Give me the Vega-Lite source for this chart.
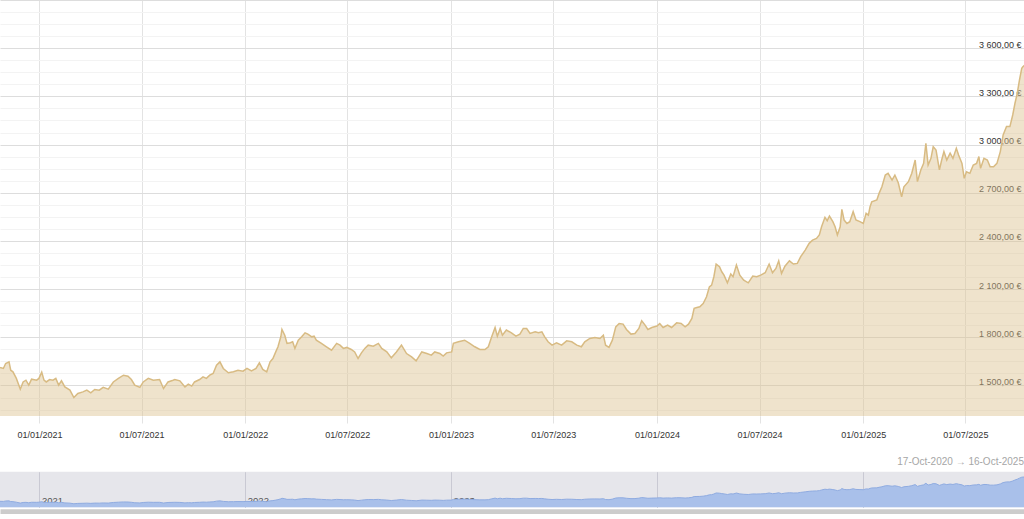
{
  "$schema": "https://vega.github.io/schema/vega-lite/v6.json",
  "padding": 0,
  "background": "white",
  "spacing": 55.7,
  "bounds": "flush",
  "config": {"font": "Liberation Sans", "view": {"stroke": null}},
  "datasets": {
    "gold": [
      {"date": "2020-10-17", "price": 1620}, {"date": "2020-10-23", "price": 1612}, {"date": "2020-10-29", "price": 1606}, {"date": "2020-11-02", "price": 1637}, {"date": "2020-11-08", "price": 1647}, {"date": "2020-11-11", "price": 1595}, {"date": "2020-11-15", "price": 1585}, {"date": "2020-11-21", "price": 1544}, {"date": "2020-11-28", "price": 1477}, {"date": "2020-12-03", "price": 1522}, {"date": "2020-12-08", "price": 1533}, {"date": "2020-12-13", "price": 1502}, {"date": "2020-12-18", "price": 1539}, {"date": "2020-12-27", "price": 1533}, {"date": "2020-12-31", "price": 1544},
      {"date": "2021-01-05", "price": 1583}, {"date": "2021-01-09", "price": 1533}, {"date": "2021-01-13", "price": 1522}, {"date": "2021-01-19", "price": 1537}, {"date": "2021-01-25", "price": 1533}, {"date": "2021-01-30", "price": 1544}, {"date": "2021-02-04", "price": 1502}, {"date": "2021-02-09", "price": 1529}, {"date": "2021-02-15", "price": 1491}, {"date": "2021-02-24", "price": 1471}, {"date": "2021-03-03", "price": 1425}, {"date": "2021-03-10", "price": 1450}, {"date": "2021-03-19", "price": 1460}, {"date": "2021-03-26", "price": 1471}, {"date": "2021-04-02", "price": 1454}, {"date": "2021-04-09", "price": 1475}, {"date": "2021-04-17", "price": 1471}, {"date": "2021-04-24", "price": 1488}, {"date": "2021-05-03", "price": 1477}, {"date": "2021-05-12", "price": 1522}, {"date": "2021-05-21", "price": 1544}, {"date": "2021-05-30", "price": 1564}, {"date": "2021-06-07", "price": 1558}, {"date": "2021-06-13", "price": 1537}, {"date": "2021-06-19", "price": 1502}, {"date": "2021-06-28", "price": 1488}, {"date": "2021-07-04", "price": 1522}, {"date": "2021-07-13", "price": 1544}, {"date": "2021-07-22", "price": 1533}, {"date": "2021-08-02", "price": 1537}, {"date": "2021-08-09", "price": 1481}, {"date": "2021-08-17", "price": 1522}, {"date": "2021-08-26", "price": 1533}, {"date": "2021-08-29", "price": 1537}, {"date": "2021-09-07", "price": 1529}, {"date": "2021-09-16", "price": 1491}, {"date": "2021-09-22", "price": 1508}, {"date": "2021-09-28", "price": 1496}, {"date": "2021-10-03", "price": 1522}, {"date": "2021-10-12", "price": 1537}, {"date": "2021-10-18", "price": 1554}, {"date": "2021-10-24", "price": 1544}, {"date": "2021-10-30", "price": 1564}, {"date": "2021-11-05", "price": 1575}, {"date": "2021-11-11", "price": 1626}, {"date": "2021-11-17", "price": 1647}, {"date": "2021-11-23", "price": 1606}, {"date": "2021-12-02", "price": 1579}, {"date": "2021-12-11", "price": 1585}, {"date": "2021-12-19", "price": 1595}, {"date": "2021-12-28", "price": 1589},
      {"date": "2022-01-04", "price": 1606}, {"date": "2022-01-12", "price": 1591}, {"date": "2022-01-20", "price": 1606}, {"date": "2022-01-26", "price": 1641}, {"date": "2022-02-01", "price": 1600}, {"date": "2022-02-08", "price": 1585}, {"date": "2022-02-14", "price": 1647}, {"date": "2022-02-19", "price": 1668}, {"date": "2022-02-24", "price": 1709}, {"date": "2022-02-28", "price": 1741}, {"date": "2022-03-05", "price": 1803}, {"date": "2022-03-07", "price": 1849}, {"date": "2022-03-12", "price": 1813}, {"date": "2022-03-16", "price": 1762}, {"date": "2022-03-22", "price": 1766}, {"date": "2022-03-26", "price": 1772}, {"date": "2022-03-30", "price": 1731}, {"date": "2022-04-05", "price": 1782}, {"date": "2022-04-11", "price": 1803}, {"date": "2022-04-17", "price": 1828}, {"date": "2022-04-22", "price": 1820}, {"date": "2022-04-29", "price": 1803}, {"date": "2022-05-03", "price": 1807}, {"date": "2022-05-07", "price": 1782}, {"date": "2022-05-16", "price": 1762}, {"date": "2022-05-25", "price": 1741}, {"date": "2022-06-03", "price": 1720}, {"date": "2022-06-12", "price": 1762}, {"date": "2022-06-18", "price": 1751}, {"date": "2022-06-24", "price": 1731}, {"date": "2022-06-30", "price": 1737}, {"date": "2022-07-08", "price": 1724}, {"date": "2022-07-14", "price": 1709}, {"date": "2022-07-20", "price": 1668}, {"date": "2022-07-26", "price": 1703}, {"date": "2022-08-01", "price": 1731}, {"date": "2022-08-07", "price": 1751}, {"date": "2022-08-16", "price": 1745}, {"date": "2022-08-25", "price": 1762}, {"date": "2022-08-31", "price": 1731}, {"date": "2022-09-09", "price": 1709}, {"date": "2022-09-17", "price": 1672}, {"date": "2022-09-26", "price": 1709}, {"date": "2022-10-05", "price": 1751}, {"date": "2022-10-14", "price": 1699}, {"date": "2022-10-23", "price": 1678}, {"date": "2022-10-31", "price": 1653}, {"date": "2022-11-10", "price": 1709}, {"date": "2022-11-19", "price": 1699}, {"date": "2022-11-27", "price": 1689}, {"date": "2022-12-03", "price": 1709}, {"date": "2022-12-12", "price": 1699}, {"date": "2022-12-18", "price": 1683}, {"date": "2022-12-24", "price": 1703},
      {"date": "2023-01-02", "price": 1709}, {"date": "2023-01-05", "price": 1762}, {"date": "2023-01-14", "price": 1772}, {"date": "2023-01-25", "price": 1782}, {"date": "2023-02-03", "price": 1762}, {"date": "2023-02-12", "price": 1741}, {"date": "2023-02-21", "price": 1724}, {"date": "2023-03-02", "price": 1724}, {"date": "2023-03-08", "price": 1741}, {"date": "2023-03-14", "price": 1803}, {"date": "2023-03-20", "price": 1861}, {"date": "2023-03-24", "price": 1807}, {"date": "2023-03-29", "price": 1855}, {"date": "2023-04-02", "price": 1813}, {"date": "2023-04-09", "price": 1845}, {"date": "2023-04-18", "price": 1828}, {"date": "2023-04-26", "price": 1807}, {"date": "2023-05-03", "price": 1820}, {"date": "2023-05-09", "price": 1855}, {"date": "2023-05-15", "price": 1855}, {"date": "2023-05-21", "price": 1824}, {"date": "2023-05-30", "price": 1834}, {"date": "2023-06-05", "price": 1828}, {"date": "2023-06-11", "price": 1834}, {"date": "2023-06-16", "price": 1803}, {"date": "2023-06-22", "price": 1772}, {"date": "2023-06-29", "price": 1751}, {"date": "2023-07-07", "price": 1766}, {"date": "2023-07-16", "price": 1751}, {"date": "2023-07-25", "price": 1778}, {"date": "2023-08-03", "price": 1772}, {"date": "2023-08-12", "price": 1751}, {"date": "2023-08-20", "price": 1741}, {"date": "2023-08-26", "price": 1772}, {"date": "2023-09-04", "price": 1793}, {"date": "2023-09-13", "price": 1799}, {"date": "2023-09-22", "price": 1793}, {"date": "2023-09-28", "price": 1813}, {"date": "2023-10-02", "price": 1751}, {"date": "2023-10-08", "price": 1737}, {"date": "2023-10-14", "price": 1782}, {"date": "2023-10-20", "price": 1865}, {"date": "2023-10-26", "price": 1886}, {"date": "2023-11-02", "price": 1882}, {"date": "2023-11-08", "price": 1849}, {"date": "2023-11-16", "price": 1820}, {"date": "2023-11-23", "price": 1824}, {"date": "2023-11-30", "price": 1855}, {"date": "2023-12-05", "price": 1903}, {"date": "2023-12-11", "price": 1876}, {"date": "2023-12-16", "price": 1849}, {"date": "2023-12-23", "price": 1861},
      {"date": "2024-01-01", "price": 1870}, {"date": "2024-01-06", "price": 1886}, {"date": "2024-01-12", "price": 1861}, {"date": "2024-01-20", "price": 1876}, {"date": "2024-01-27", "price": 1861}, {"date": "2024-02-05", "price": 1890}, {"date": "2024-02-13", "price": 1886}, {"date": "2024-02-20", "price": 1865}, {"date": "2024-02-26", "price": 1882}, {"date": "2024-03-03", "price": 1917}, {"date": "2024-03-07", "price": 1980}, {"date": "2024-03-12", "price": 1985}, {"date": "2024-03-17", "price": 1990}, {"date": "2024-03-23", "price": 2010}, {"date": "2024-03-29", "price": 2052}, {"date": "2024-04-03", "price": 2114}, {"date": "2024-04-07", "price": 2125}, {"date": "2024-04-11", "price": 2177}, {"date": "2024-04-15", "price": 2256}, {"date": "2024-04-21", "price": 2239}, {"date": "2024-04-25", "price": 2208}, {"date": "2024-04-29", "price": 2187}, {"date": "2024-05-05", "price": 2139}, {"date": "2024-05-11", "price": 2194}, {"date": "2024-05-15", "price": 2177}, {"date": "2024-05-21", "price": 2250}, {"date": "2024-05-27", "price": 2187}, {"date": "2024-06-03", "price": 2156}, {"date": "2024-06-11", "price": 2139}, {"date": "2024-06-19", "price": 2181}, {"date": "2024-06-26", "price": 2177}, {"date": "2024-07-03", "price": 2187}, {"date": "2024-07-11", "price": 2202}, {"date": "2024-07-18", "price": 2256}, {"date": "2024-07-24", "price": 2202}, {"date": "2024-07-30", "price": 2229}, {"date": "2024-08-04", "price": 2276}, {"date": "2024-08-09", "price": 2198}, {"date": "2024-08-15", "price": 2243}, {"date": "2024-08-23", "price": 2276}, {"date": "2024-08-30", "price": 2256}, {"date": "2024-09-06", "price": 2260}, {"date": "2024-09-12", "price": 2302}, {"date": "2024-09-20", "price": 2343}, {"date": "2024-09-27", "price": 2385}, {"date": "2024-10-03", "price": 2405}, {"date": "2024-10-10", "price": 2416}, {"date": "2024-10-15", "price": 2437}, {"date": "2024-10-19", "price": 2488}, {"date": "2024-10-25", "price": 2547}, {"date": "2024-10-29", "price": 2526}, {"date": "2024-11-02", "price": 2555}, {"date": "2024-11-08", "price": 2520}, {"date": "2024-11-12", "price": 2488}, {"date": "2024-11-16", "price": 2437}, {"date": "2024-11-21", "price": 2488}, {"date": "2024-11-24", "price": 2597}, {"date": "2024-11-28", "price": 2530}, {"date": "2024-12-03", "price": 2509}, {"date": "2024-12-08", "price": 2520}, {"date": "2024-12-14", "price": 2582}, {"date": "2024-12-19", "price": 2530}, {"date": "2024-12-26", "price": 2520},
      {"date": "2025-01-01", "price": 2509}, {"date": "2025-01-06", "price": 2572}, {"date": "2025-01-10", "price": 2561}, {"date": "2025-01-13", "price": 2613}, {"date": "2025-01-16", "price": 2644}, {"date": "2025-01-25", "price": 2655}, {"date": "2025-01-29", "price": 2696}, {"date": "2025-02-03", "price": 2737}, {"date": "2025-02-09", "price": 2810}, {"date": "2025-02-14", "price": 2821}, {"date": "2025-02-21", "price": 2779}, {"date": "2025-02-26", "price": 2810}, {"date": "2025-03-04", "price": 2762}, {"date": "2025-03-10", "price": 2675}, {"date": "2025-03-14", "price": 2737}, {"date": "2025-03-22", "price": 2769}, {"date": "2025-03-28", "price": 2821}, {"date": "2025-04-03", "price": 2904}, {"date": "2025-04-07", "price": 2769}, {"date": "2025-04-13", "price": 2842}, {"date": "2025-04-18", "price": 2883}, {"date": "2025-04-22", "price": 3008}, {"date": "2025-04-26", "price": 2873}, {"date": "2025-05-01", "price": 2914}, {"date": "2025-05-05", "price": 2987}, {"date": "2025-05-10", "price": 2966}, {"date": "2025-05-16", "price": 2842}, {"date": "2025-05-20", "price": 2904}, {"date": "2025-05-24", "price": 2956}, {"date": "2025-05-29", "price": 2904}, {"date": "2025-06-04", "price": 2946}, {"date": "2025-06-09", "price": 2914}, {"date": "2025-06-15", "price": 2977}, {"date": "2025-06-19", "price": 2935}, {"date": "2025-06-25", "price": 2883}, {"date": "2025-06-29", "price": 2790}, {"date": "2025-07-03", "price": 2831}, {"date": "2025-07-09", "price": 2821}, {"date": "2025-07-15", "price": 2873}, {"date": "2025-07-21", "price": 2883}, {"date": "2025-07-25", "price": 2925}, {"date": "2025-07-28", "price": 2852}, {"date": "2025-08-03", "price": 2914}, {"date": "2025-08-09", "price": 2904}, {"date": "2025-08-14", "price": 2862}, {"date": "2025-08-20", "price": 2862}, {"date": "2025-08-26", "price": 2883}, {"date": "2025-09-01", "price": 2956}, {"date": "2025-09-06", "price": 3060}, {"date": "2025-09-12", "price": 3112}, {"date": "2025-09-18", "price": 3112}, {"date": "2025-09-23", "price": 3184}, {"date": "2025-09-27", "price": 3257}, {"date": "2025-10-01", "price": 3319}, {"date": "2025-10-05", "price": 3402}, {"date": "2025-10-09", "price": 3474}, {"date": "2025-10-11", "price": 3484}, {"date": "2025-10-16", "price": 3500}
    ]
  },
  "vconcat": [
    {
      "width": 1024,
      "height": 416,
      "data": {"name": "gold"},
      "encoding": {
        "x": {
          "field": "date", "type": "temporal",
          "scale": {"domain": [{"year": 2020, "month": 10, "date": 23}, {"year": 2025, "month": 10, "date": 13}]},
          "axis": {"orient": "bottom", "format": "%d/%m/%Y", "tickCount": {"interval": "month", "step": 6}, "grid": true, "gridColor": "#e3e3e3", "ticks": true, "tickColor": "#e3e3e3", "tickSize": 7, "domain": false, "labelPadding": 7, "labelFontSize": 9, "labelColor": "#333333", "labelFlush": false, "title": null}
        },
        "y": {
          "field": "price", "type": "quantitative",
          "scale": {"domain": [1310, 3900], "nice": false, "zero": false},
          "axis": {
            "orient": "right",
            "values": [1350, 1425, 1500, 1575, 1650, 1725, 1800, 1875, 1950, 2025, 2100, 2175, 2250, 2325, 2400, 2475, 2550, 2625, 2700, 2775, 2850, 2925, 3000, 3075, 3150, 3225, 3300, 3375, 3450, 3525, 3600, 3675, 3750, 3825, 3900],
            "grid": true,
            "gridColor": {"condition": {"test": "datum.value % 300 === 0", "value": "#dddddd"}, "value": "#f3f3f3"},
            "domain": false, "ticks": false,
            "labelExpr": "datum.value % 300 === 0 && datum.value < 3900 ? replace(replace(format(datum.value, ',.2f'), ',', ' '), '.', ',') + ' €' : ''",
            "labelAlign": "right",
            "labelBaseline": {"condition": {"test": "datum.value >= 3900", "value": "top"}, "value": "alphabetic"},
            "labelOffset": {"condition": {"test": "datum.value >= 3900", "value": 2}, "value": -1},
            "labelPadding": -3,
            "labelFontSize": 9, "labelColor": "#333333", "labelFlush": false, "labelOverlap": false,
            "title": null
          }
        }
      },
      "layer": [
        {"mark": {"type": "area", "color": "#dcc08e", "fillOpacity": 0.45, "clip": true}},
        {"mark": {"type": "line", "color": "#d8bb83", "strokeWidth": 1.5, "clip": true}}
      ]
    },
    {
      "width": 1024,
      "height": 35.6,
      "view": {"fill": "#e6e6eb", "stroke": null},
      "title": {"text": "17-Oct-2020 → 16-Oct-2025", "anchor": "end", "frame": "group", "fontSize": 10, "fontWeight": "normal", "color": "#a6a6a6", "offset": 5},
      "data": {"name": "gold"},
      "encoding": {
        "y": {"field": "price", "type": "quantitative", "scale": {"domain": [1150, 3900], "nice": false, "zero": false}, "axis": null}
      },
      "layer": [
        {
          "mark": {"type": "area", "color": "#a9c0ea", "clip": true},
          "encoding": {
            "x": {"field": "date", "type": "temporal",
              "scale": {"domain": [{"year": 2020, "month": 10, "date": 23}, {"year": 2025, "month": 10, "date": 13}]},
              "axis": {"orient": "top", "tickCount": "year", "format": "%Y", "grid": true, "gridColor": "#c9c9d3", "ticks": false, "domain": false, "labelAlign": "left", "labelBaseline": "bottom", "labelPadding": -34, "labelOffset": 2, "labelFontSize": 9.5, "labelColor": "#555555", "labelFlush": false, "title": null}}
          }
        },
        {
          "mark": {"type": "line", "color": "#8fabe0", "strokeWidth": 1, "clip": true},
          "encoding": {
            "x": {"field": "date", "type": "temporal",
              "scale": {"domain": [{"year": 2020, "month": 10, "date": 23}, {"year": 2025, "month": 10, "date": 13}]},
              "axis": {"orient": "bottom", "domain": true, "domainColor": "#cccccc", "domainWidth": 10, "offset": 6.5, "labels": false, "ticks": false, "grid": false, "title": null}}
          }
        }
      ],
      "resolve": {"axis": {"x": "independent"}}
    }
  ]
}
